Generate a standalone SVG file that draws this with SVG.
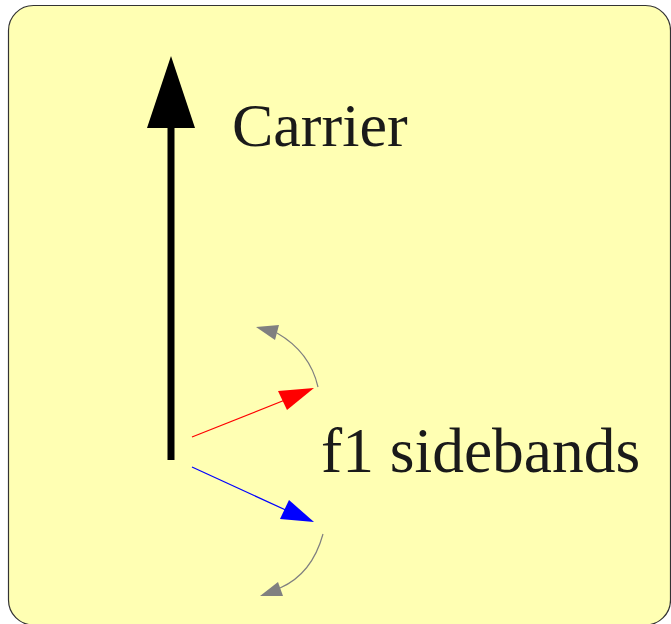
<svg xmlns="http://www.w3.org/2000/svg" width="671" height="624" viewBox="0 0 671 624">
<style>
.lbl{font-family:"Liberation Serif","DejaVu Serif",serif;font-size:62px;fill:#1a1a1a}
.gray{fill:none;stroke:#808080;stroke-width:1.2}
</style>
<rect id="panel" x="8.5" y="5.5" width="662" height="619.5" rx="25" ry="25" fill="#ffffb3" stroke="#333333" stroke-width="1.2"/>
<g id="connectors">
<line x1="171" y1="460" x2="171" y2="126" stroke="#000" stroke-width="7"/>
<polygon points="147,128 195,128 171,56" fill="#000"/>
<line x1="192" y1="437" x2="290" y2="398" stroke="#ff0000" stroke-width="1.2"/>
<polygon points="278,391 287,410 314,388" fill="#ff0000"/>
<line x1="192" y1="467" x2="290" y2="512" stroke="#0000ff" stroke-width="1.2"/>
<polygon points="280,519 289,500 314,522" fill="#0000ff"/>
<path class="gray" d="M318,387 Q310,352 277,333"/>
<polygon points="256,327 275,340 279,325" fill="#808080"/>
<path class="gray" d="M323,534 Q312,574 280,588"/>
<polygon points="260,596 278,582 283,596" fill="#808080"/>
</g>
<g id="carrier-label"><text class="lbl" x="232" y="146">Carrier</text></g>
<g id="sidebands-label"><text class="lbl" x="321" y="472" style="font-size:63.5px">f1 sidebands</text></g>
</svg>
